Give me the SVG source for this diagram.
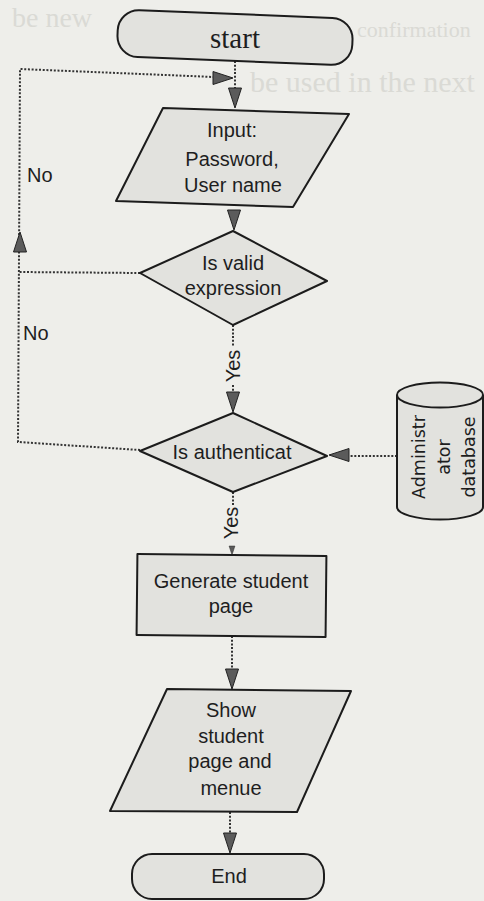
<svg xmlns="http://www.w3.org/2000/svg" xmlns:xlink="http://www.w3.org/1999/xlink" width="484" height="901" viewBox="0 0 484 901">
  <style>
    .paper { fill: #eeeeea; }
    .ghost { font-family: "Liberation Serif", "Times New Roman", serif; font-size: 30px; fill: #dadad5; }
    .node { fill: #e2e2de; stroke: #1c1c1c; stroke-width: 2; stroke-linejoin: round; }
    .edge { fill: none; stroke: #1c1c1c; stroke-width: 2; }
    .flow { fill: none; stroke: #333333; stroke-width: 2; stroke-dasharray: 2 1.7; }
    .head { fill: #5b5b5b; stroke: #222222; stroke-width: 1; stroke-linejoin: miter; }
    .label { font-family: "Liberation Sans", Arial, sans-serif; font-size: 20px; fill: #1e1e1e; text-anchor: middle; }
    .side { text-anchor: start; }
    .serif { font-family: "Liberation Serif", "Times New Roman", serif; font-size: 29px; }
    .db { font-family: "DejaVu Sans", Verdana, sans-serif; font-size: 17.5px; fill: #1e1e1e; text-anchor: middle; }
  </style>
  <defs>
    <!-- arrowhead pointing down, tip at the origin -->
    <path id="ah" d="M0,0 L-6.5,-20 L6.5,-20 Z"/>
  </defs>

  <rect class="paper" x="0" y="0" width="484" height="901"/>

  <!-- faint print from the facing page -->
  <g id="show-through">
    <text class="ghost" x="12" y="27" style="font-size:28px">be new</text>
    <text class="ghost" x="357" y="37" style="font-size:22px">confirmation</text>
    <text class="ghost" x="250" y="92">be used in the next</text>
  </g>

  <g id="connectors">
    <!-- start -> input -->
    <path class="flow" d="M235,61 L235,90"/>
    <use class="head" xlink:href="#ah" transform="translate(235,108)"/>
    <!-- input -> is valid -->
    <use class="head" xlink:href="#ah" transform="translate(234,230)"/>
    <!-- is valid -> is authenticated (Yes) -->
    <path class="flow" d="M233,325 L233,346 M233,385 L233,393"/>
    <text class="label" transform="translate(240,366) rotate(-90)">Yes</text>
    <use class="head" xlink:href="#ah" transform="translate(233,412)"/>
    <!-- is authenticated -> generate page (Yes) -->
    <path class="flow" d="M233,492 L233,506"/>
    <text class="label" transform="translate(238,523) rotate(-90)">Yes</text>
    <use class="head" xlink:href="#ah" transform="translate(232,555) scale(0.45)"/>
    <!-- generate page -> show page -->
    <path class="flow" d="M232,636 L232,670"/>
    <use class="head" xlink:href="#ah" transform="translate(232,689)"/>
    <!-- show page -> end -->
    <path class="flow" d="M230,812 L230,834"/>
    <use class="head" xlink:href="#ah" transform="translate(230,853)"/>
    <!-- database -> is authenticated -->
    <path class="flow" d="M397,456 L349,456"/>
    <use class="head" xlink:href="#ah" transform="translate(329,455) rotate(90)"/>
    <!-- No branches back to the input -->
    <path class="flow" d="M140,450 L18,442 L20,69 L214,77"/>
    <path class="flow" d="M140,273 L19,272"/>
    <use class="head" xlink:href="#ah" transform="translate(233,78) rotate(-90)"/>
    <use class="head" xlink:href="#ah" transform="translate(20,232) rotate(180)"/>
    <text class="label side" x="27" y="182">No</text>
    <text class="label side" x="23" y="340">No</text>
  </g>

  <g id="start">
    <rect class="node" x="117.5" y="14" width="235" height="47" rx="21" transform="rotate(2.3 235 37.5)"/>
    <text class="label serif" x="235" y="48">start</text>
  </g>

  <g id="input">
    <polygon class="node" points="163,108 349,114 293,207 116,201"/>
    <text class="label" x="232" y="137">Input:</text>
    <text class="label" x="232" y="166">Password,</text>
    <text class="label" x="233" y="192">User name</text>
  </g>

  <g id="is-valid">
    <polygon class="node" points="140,273 233,231 327,281 233,325"/>
    <text class="label" x="233" y="270">Is valid</text>
    <text class="label" x="233" y="295">expression</text>
  </g>

  <g id="is-authenticated">
    <polygon class="node" points="140,451 233,413 327,456 233,492"/>
    <text class="label" x="232" y="459">Is authenticat</text>
  </g>

  <g id="admin-db">
    <path class="node" d="M397,395 L397,507 A43,12.5 0 0 0 483,507 L483,395 A43,12.5 0 0 0 397,395 Z"/>
    <path class="edge" d="M397,395 A43,12.5 0 0 0 483,395"/>
    <text class="db" transform="translate(425,457) rotate(-90)">Administr</text>
    <text class="db" transform="translate(450,457) rotate(-90)">ator</text>
    <text class="db" transform="translate(475,457) rotate(-90)">database</text>
  </g>

  <g id="generate-page">
    <rect class="node" x="137" y="555" width="189" height="81" transform="rotate(0.6 231 595)"/>
    <text class="label" x="231" y="588">Generate student</text>
    <text class="label" x="231" y="613">page</text>
  </g>

  <g id="show-page">
    <polygon class="node" points="167,689 351,691 297,812 110,811"/>
    <text class="label" x="231" y="717">Show</text>
    <text class="label" x="231" y="743">student</text>
    <text class="label" x="230" y="768">page and</text>
    <text class="label" x="231" y="795">menue</text>
  </g>

  <g id="end">
    <rect class="node" x="132" y="854" width="192" height="45" rx="20"/>
    <text class="label" x="229" y="883">End</text>
  </g>
</svg>
